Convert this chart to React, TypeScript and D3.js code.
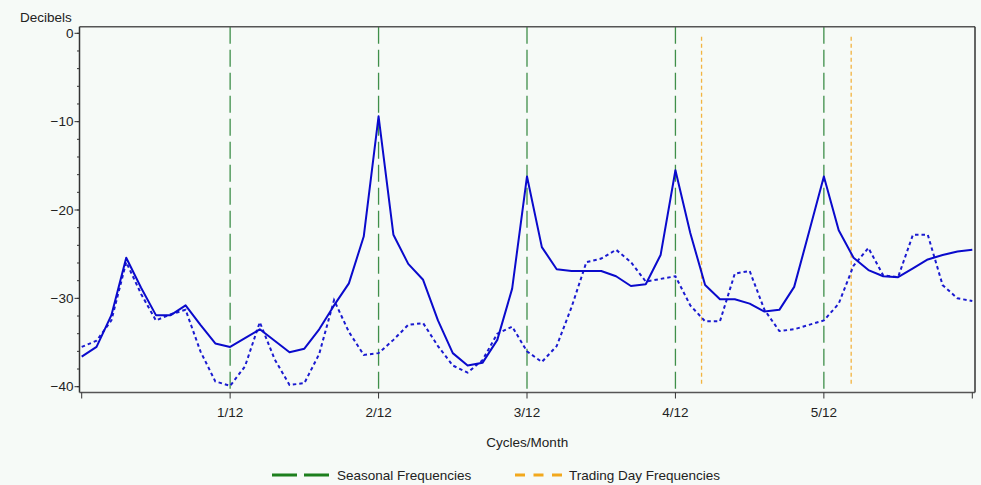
import React from "react";
import * as d3 from "d3";

const frequencies: number[] = d3.range(61).map((k) => k / 120);

const seriesSolid: number[] = [
  -36.6, -35.5, -31.9, -25.4, -28.8, -31.9, -31.9, -30.8, -33.0, -35.1,
  -35.5, -34.5, -33.5, -34.8, -36.1, -35.7, -33.5, -30.8, -28.3, -23.0,
  -9.4, -22.8, -26.1, -27.9, -32.5, -36.2, -37.6, -37.3, -34.7, -28.9,
  -16.2, -24.2, -26.7, -26.9, -26.9, -26.9, -27.5, -28.6, -28.4, -25.1,
  -15.5, -22.6, -28.5, -30.1, -30.1, -30.6, -31.5, -31.3, -28.7, -22.5,
  -16.2, -22.3, -25.4, -26.8, -27.5, -27.6, -26.6, -25.6, -25.1, -24.7,
  -24.5,
];

const seriesDotted: number[] = [
  -35.5, -34.8, -32.5, -25.9, -29.5, -32.5, -31.8, -31.3, -36.0, -39.4,
  -39.9, -37.7, -32.7, -36.9, -39.8, -39.6, -36.3, -30.2, -33.8, -36.4,
  -36.2, -34.7, -33.0, -32.8, -35.4, -37.6, -38.4, -37.0, -34.0, -33.2,
  -36.0, -37.2, -35.4, -31.0, -25.9, -25.5, -24.5, -25.9, -28.1, -27.8,
  -27.5, -30.8, -32.6, -32.6, -27.2, -26.9, -31.3, -33.7, -33.5, -33.0,
  -32.5, -30.6, -26.3, -24.3, -27.4, -27.6, -22.8, -22.8, -28.5, -30.0,
  -30.3,
];

const seasonalFreqs: number[] = [1 / 12, 2 / 12, 3 / 12, 4 / 12, 5 / 12];
const tradingDayFreqs: number[] = [0.348, 0.432];

const xTickValues: number[] = [0, 1 / 12, 2 / 12, 3 / 12, 4 / 12, 5 / 12, 6 / 12];
const xTickLabels: string[] = ["", "1/12", "2/12", "3/12", "4/12", "5/12", ""];
const yTickValues: number[] = [0, -10, -20, -30, -40];
const yMinorTicks: number[] = d3.range(-40, 0.1, 2);

const legendItems: string[] = ["Seasonal Frequencies", "Trading Day Frequencies"];

const W = 981;
const H = 485;
const FONT = "'Liberation Sans', Arial, sans-serif";
const FS = 13.5;
const BG = "#f6faf7";
const TEXT = "#222";

export default function App() {
  const x = d3.scaleLinear().domain([0, 0.5]).range([81.7, 972.3]);
  const y = d3.scaleLinear().domain([-40, 0]).range([386.7, 33.3]);
  const frameL = 79.5, frameR = 975, frameT = 26.7, frameB = 392.5;

  const line = d3
    .line<number>()
    .x((_, i) => x(frequencies[i]))
    .y((d) => y(d));

  const fmt = (v: number) => (v < 0 ? "\u2212" + Math.abs(v) : String(v));

  return (
    <svg width={W} height={H} style={{ position: "absolute", left: 0, top: 0 }} fontFamily={FONT}>
      <rect x={0} y={0} width={W} height={H} fill={BG} />
      {/* seasonal reference lines */}
      {seasonalFreqs.map((f, i) => (
        <line key={"s" + i} x1={x(f)} x2={x(f)} y1={frameT} y2={frameB}
          stroke="#3f8f4a" strokeWidth={1.3} strokeDasharray="17,6" />
      ))}
      {tradingDayFreqs.map((f, i) => (
        <line key={"t" + i} x1={x(f)} x2={x(f)} y1={y(-0.4)} y2={y(-40)}
          stroke="#f2b441" strokeWidth={1.3} strokeDasharray="4,3" />
      ))}
      {/* series */}
      <path d={line(seriesDotted) || ""} fill="none" stroke="#1a1ad0" strokeWidth={2}
        strokeDasharray="3.5,3" />
      <path d={line(seriesSolid) || ""} fill="none" stroke="#0a0acc" strokeWidth={2}
        strokeLinejoin="round" />
      {/* frame */}
      <line x1={frameL} x2={frameR} y1={frameT} y2={frameT} stroke="#555" strokeWidth={1.5} />
      <line x1={frameR} x2={frameR} y1={frameT} y2={frameB} stroke="#333" strokeWidth={1.5} />
      <line x1={frameL} x2={frameL} y1={frameT} y2={frameB} stroke="#333" strokeWidth={1.5} />
      <line x1={frameL} x2={frameR} y1={frameB} y2={frameB} stroke="#555" strokeWidth={1.5} />
      {/* y axis ticks */}
      {yMinorTicks.map((v, i) => (
        <line key={"ym" + i} x1={frameL - 2.5} x2={frameL} y1={y(v)} y2={y(v)} stroke="#333" strokeWidth={1} />
      ))}
      {yTickValues.map((v, i) => (
        <g key={"y" + i}>
          <line x1={frameL - 5} x2={frameL} y1={y(v)} y2={y(v)} stroke="#333" strokeWidth={1} />
          <text x={frameL - 6} y={y(v)} dy="0.35em" textAnchor="end" fontSize={FS} fill={TEXT}>
            {fmt(v)}
          </text>
        </g>
      ))}
      <text x={20} y={21.5} fontSize={FS} fill={TEXT}>Decibels</text>
      {/* x axis ticks */}
      {xTickValues.map((v, i) => (
        <g key={"x" + i}>
          <line x1={x(v)} x2={x(v)} y1={frameB} y2={frameB + 6} stroke="#333" strokeWidth={1} />
          <text x={x(v)} y={416.5} textAnchor="middle" fontSize={FS} fill={TEXT}>
            {xTickLabels[i]}
          </text>
        </g>
      ))}
      <text x={(frameL + frameR) / 2} y={447} textAnchor="middle" fontSize={FS} fill={TEXT}>
        Cycles/Month
      </text>
      {/* legend */}
      <line x1={272} x2={329} y1={475} y2={475} stroke="#1d7f1d" strokeWidth={3} strokeDasharray="25,7" />
      <text x={337} y={479.5} fontSize={FS} fill={TEXT}>{legendItems[0]}</text>
      <line x1={515} x2={562} y1={475} y2={475} stroke="#f2a81d" strokeWidth={3} strokeDasharray="10,8.5" />
      <text x={569} y={479.5} fontSize={FS} fill={TEXT}>{legendItems[1]}</text>
    </svg>
  );
}
